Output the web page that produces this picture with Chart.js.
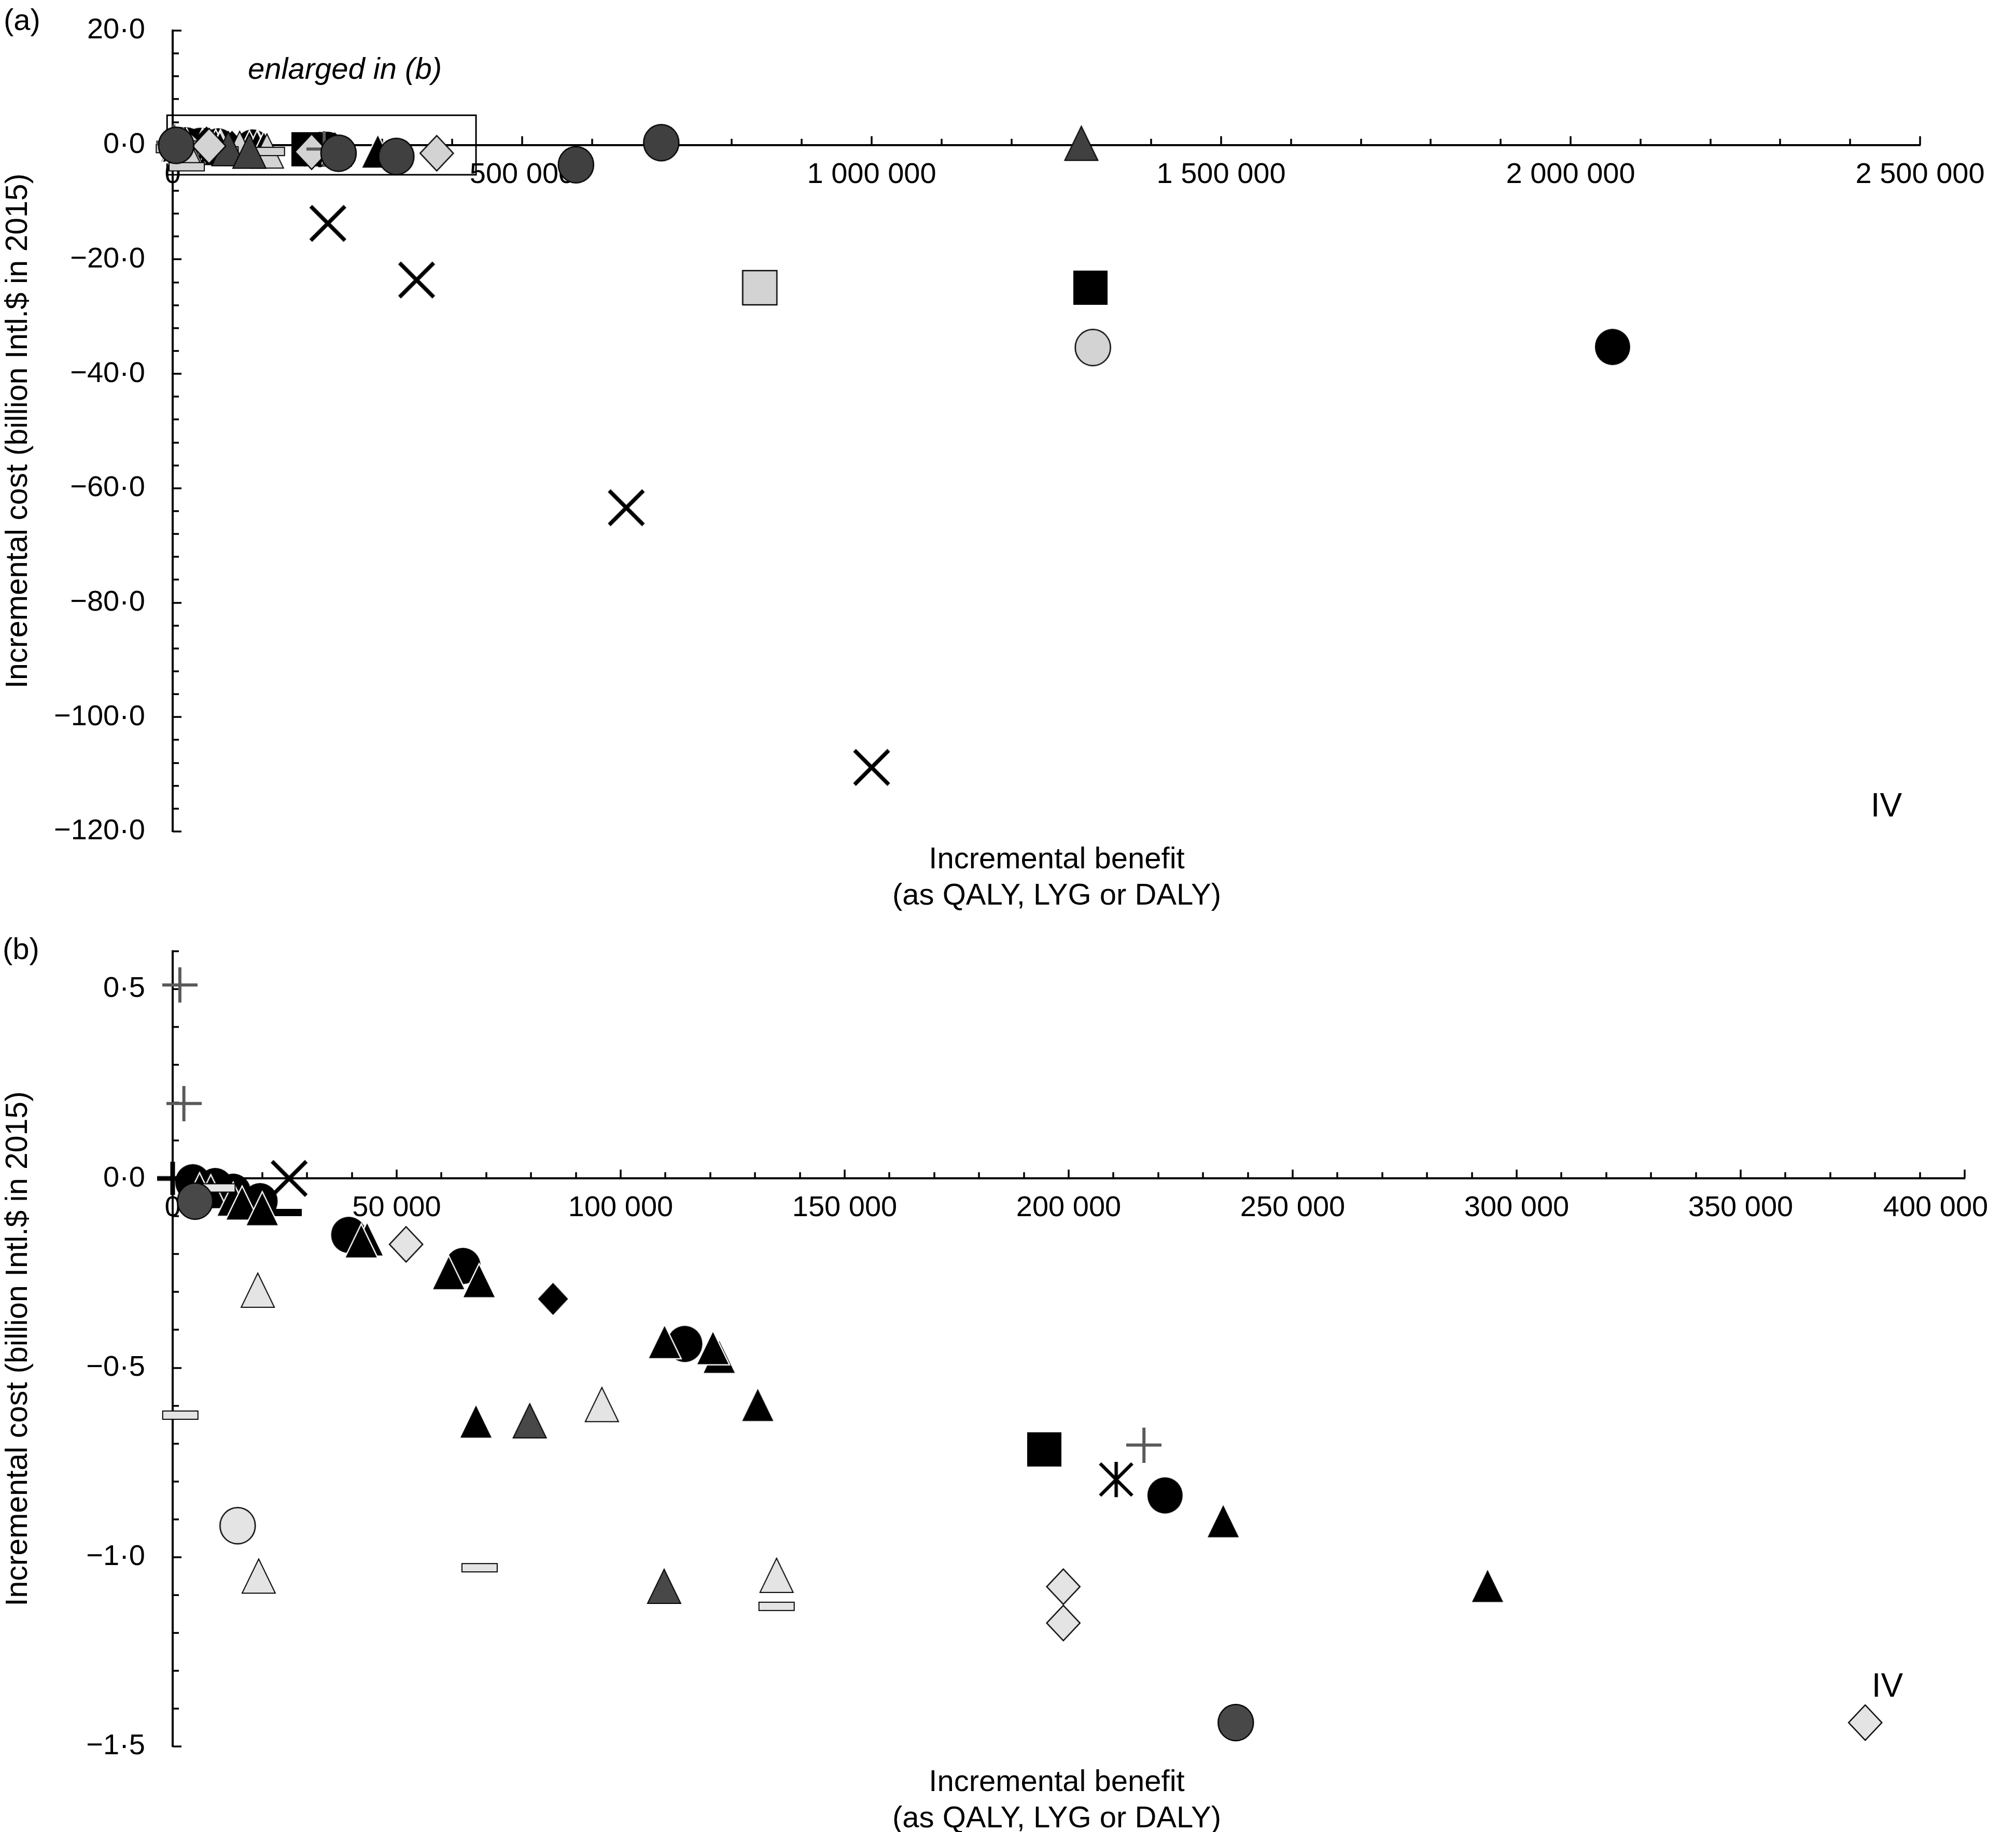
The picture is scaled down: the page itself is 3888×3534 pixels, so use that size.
<!DOCTYPE html>
<html><head><meta charset="utf-8">
<script src="https://cdn.jsdelivr.net/npm/chart.js@4.4.1/dist/chart.umd.min.js"></script>
<style>
html,body{margin:0;padding:0;background:#fff;}
body{width:3888px;height:3534px;position:relative;overflow:hidden;}
canvas{position:absolute;left:0;top:0;}
</style></head>
<body>
<canvas id="ca" width="3888" height="3534"></canvas>
<canvas id="cb" width="3888" height="3534"></canvas>
<script>
// ---------------- data (x = incremental benefit, y = incremental cost, billion Intl.$) ----------------
const blackCircles   = [[4500,-0.01],[9500,-0.02],[13500,-0.035],[19500,-0.06],[39300,-0.149],[64800,-0.231],[114300,-0.437],[221500,-0.837],[2060000,-35.3]];
const blackTriangles = [[6000,-0.03],[8500,-0.035],[13500,-0.055],[15500,-0.065],[20000,-0.08],[43400,-0.16],[42100,-0.165],[61600,-0.249],[68400,-0.27],[67700,-0.641],[109800,-0.431],[122000,-0.47],[120600,-0.447],[130600,-0.597],[234500,-0.904],[293500,-1.075]];
const darkTriangles  = [[79700,-0.64],[109700,-1.077],[1300000,0.3]];
const darkCircles    = [[5000,-0.06],[237300,-1.437],[320000,-2.0],[577000,-3.45],[699000,0.4]];
const lightTriangles = [[19000,-0.295],[19200,-1.05],[95800,-0.597],[134800,-1.048]];
const lightCircles   = [[14500,-0.917],[1316500,-35.4]];
const lightDiamonds  = [[52100,-0.174],[198800,-1.078],[198800,-1.174],[377800,-1.437]];
const blackDiamonds  = [[84900,-0.318]];
const lightSquares   = [[840000,-24.95]];
const blackSquares   = [[194600,-0.716],[1313000,-24.95]];
const crosses        = [[26000,0.0],[222000,-13.7],[349000,-23.6],[649000,-63.4],[1000000,-108.8]];
const grayPluses     = [[1600,0.511],[2500,0.198],[216800,-0.704]];
const blackPluses    = [[0,0]];
const asterisks      = [[210600,-0.795]];
const lightDashes    = [[10000,-0.025],[1700,-0.625],[68500,-1.028],[134800,-1.13],[20000,-3.8]];
const blackDashes    = [[24900,-0.09]];

// tick labels
const xLabelsA = [0, 500000, 1000000, 1500000, 2000000, 2500000];
const yLabelsA = [20, 0, -20, -40, -60, -80, -100, -120];
const xLabelsB = [0, 50000, 100000, 150000, 200000, 250000, 300000, 350000, 400000];
const yLabelsB = [0.5, 0, -0.5, -1.0, -1.5];

// extent of the region enlarged in (b), drawn in (a)
const enlargedBox = {x0: -8000, x1: 434000, y0: 5.2, y1: -5.2};

// ---------------- rendering ----------------
const FONT = "'Liberation Sans', Arial, Helvetica, sans-serif";
Chart.defaults.font.family = FONT;
Chart.defaults.color = '#000';

function mk(w, h, draw) {
  const c = document.createElement('canvas');
  c.width = w; c.height = h;
  const g = c.getContext('2d');
  draw(g, w, h);
  return c;
}
function poly(g, pts) { g.beginPath(); g.moveTo(pts[0][0], pts[0][1]); for (let i = 1; i < pts.length; i++) g.lineTo(pts[i][0], pts[i][1]); g.closePath(); }

function makeMarkers(light, dark) {
  const M = {};
  M.blackCircle = mk(70, 72, g => { g.beginPath(); g.ellipse(35, 36, 34, 35, 0, 0, 2 * Math.PI); g.fillStyle = '#000'; g.fill(); });
  M.darkCircle = mk(74, 76, g => { g.beginPath(); g.ellipse(37, 38, 34, 35, 0, 0, 2 * Math.PI); g.fillStyle = dark; g.fill(); g.lineWidth = 2.5; g.strokeStyle = '#000'; g.stroke(); });
  M.lightCircle = mk(74, 76, g => { g.beginPath(); g.ellipse(37, 38, 34, 35, 0, 0, 2 * Math.PI); g.fillStyle = light; g.fill(); g.lineWidth = 2.5; g.strokeStyle = '#000'; g.stroke(); });
  M.blackTri = mk(70, 72, g => { poly(g, [[35, 3], [67, 69], [3, 69]]); g.fillStyle = '#000'; g.fill(); g.lineWidth = 2.5; g.strokeStyle = '#fff'; g.stroke(); });
  M.darkTri = mk(70, 72, g => { poly(g, [[35, 3], [67, 69], [3, 69]]); g.fillStyle = dark; g.fill(); g.lineWidth = 2; g.strokeStyle = '#000'; g.stroke(); });
  M.lightTri = mk(70, 72, g => { poly(g, [[35, 3], [67, 69], [3, 69]]); g.fillStyle = light; g.fill(); g.lineWidth = 2; g.strokeStyle = '#000'; g.stroke(); });
  M.lightDiamond = mk(70, 74, g => { poly(g, [[35, 3], [67, 37], [35, 71], [3, 37]]); g.fillStyle = light; g.fill(); g.lineWidth = 2.5; g.strokeStyle = '#000'; g.stroke(); });
  M.blackDiamond = mk(60, 64, g => { poly(g, [[30, 1], [59, 32], [30, 63], [1, 32]]); g.fillStyle = '#000'; g.fill(); });
  M.blackSquare = mk(66, 66, g => { g.fillStyle = '#000'; g.fillRect(0, 0, 66, 66); });
  M.lightSquare = mk(70, 70, g => { g.fillStyle = light; g.fillRect(2, 2, 66, 66); g.lineWidth = 2.5; g.strokeStyle = '#000'; g.strokeRect(2, 2, 66, 66); });
  M.cross = mk(74, 74, g => { g.strokeStyle = '#000'; g.lineWidth = 7.5; g.beginPath(); g.moveTo(4, 4); g.lineTo(70, 70); g.moveTo(70, 4); g.lineTo(4, 70); g.stroke(); });
  M.grayPlus = mk(68, 68, g => { g.strokeStyle = '#5a5a5a'; g.lineWidth = 6; g.beginPath(); g.moveTo(34, 0); g.lineTo(34, 68); g.moveTo(0, 34); g.lineTo(68, 34); g.stroke(); });
  M.blackPlus = mk(60, 64, g => { g.strokeStyle = '#000'; g.lineWidth = 9; g.beginPath(); g.moveTo(30, 0); g.lineTo(30, 64); g.moveTo(0, 32); g.lineTo(60, 32); g.stroke(); });
  M.asterisk = mk(72, 74, g => { g.strokeStyle = '#000'; g.lineWidth = 6.5; g.beginPath(); g.moveTo(5, 6); g.lineTo(67, 68); g.moveTo(67, 6); g.lineTo(5, 68); g.moveTo(36, 3); g.lineTo(36, 71); g.stroke(); });
  M.lightDash = mk(72, 20, g => { g.fillStyle = light; g.fillRect(2, 2, 68, 16); g.lineWidth = 2; g.strokeStyle = '#000'; g.strokeRect(2, 2, 68, 16); });
  M.blackDash = mk(68, 14, g => { g.fillStyle = '#000'; g.fillRect(0, 0, 68, 14); });
  return M;
}

// draw order: first entry is drawn on top
const seriesList = [
  ['darkCircles', darkCircles, 'darkCircle'],
  ['grayPluses', grayPluses, 'grayPlus'],
  ['lightDiamonds', lightDiamonds, 'lightDiamond'],
  ['darkTriangles', darkTriangles, 'darkTri'],
  ['lightDashes', lightDashes, 'lightDash'],
  ['lightTriangles', lightTriangles, 'lightTri'],
  ['lightCircles', lightCircles, 'lightCircle'],
  ['lightSquares', lightSquares, 'lightSquare'],
  ['crosses', crosses, 'cross'],
  ['asterisks', asterisks, 'asterisk'],
  ['blackPluses', blackPluses, 'blackPlus'],
  ['blackTriangles', blackTriangles, 'blackTri'],
  ['blackDashes', blackDashes, 'blackDash'],
  ['blackDiamonds', blackDiamonds, 'blackDiamond'],
  ['blackSquares', blackSquares, 'blackSquare'],
  ['blackCircles', blackCircles, 'blackCircle']
];

function datasets(markers, filter) {
  return seriesList.map(([name, arr, m]) => ({
    label: name,
    data: arr.filter(p => filter(p[0], p[1])).map(p => ({x: p[0], y: p[1]})),
    pointStyle: markers[m],
    pointRadius: 35,
    pointHoverRadius: 35,
    clip: false
  }));
}

function fmtX(v) { return v === 0 ? '0' : String(Math.round(v)).replace(/\B(?=(\d{3})+(?!\d))/g, ' '); }
function fmtY(v) { const r = Math.round(v * 10) / 10; return (r < 0 ? '\u2212' : '') + Math.abs(r).toFixed(1).replace('.', '\u00b7'); }
function pick(list, v, eps) { return list.some(l => Math.abs(l - v) < eps); }

function zeroPad(s) { s.paddingLeft = 0; s.paddingRight = 0; s.paddingTop = 0; s.paddingBottom = 0; }

function decor(opts) {
  return {
    id: 'decor',
    beforeDatasetsDraw(chart) {
      const {ctx, chartArea: ca, scales: {x, y}} = chart;
      const y0 = y.getPixelForValue(0);
      ctx.save();
      ctx.strokeStyle = '#000';
      ctx.lineWidth = 3.5;
      ctx.beginPath();
      x.ticks.forEach(t => { const px = Math.round(x.getPixelForValue(t.value)); const L = t.label ? 17 : 12; ctx.moveTo(px, y0); ctx.lineTo(px, y0 - L); });
      y.ticks.forEach(t => { const py = Math.round(y.getPixelForValue(t.value)); const L = t.label ? 17 : 12; ctx.moveTo(ca.left, py); ctx.lineTo(ca.left + L, py); });
      ctx.stroke();
      if (opts.box) {
        const b = opts.box;
        const bx0 = x.getPixelForValue(b.x0), bx1 = x.getPixelForValue(b.x1);
        const by0 = y.getPixelForValue(b.y0), by1 = y.getPixelForValue(b.y1);
        ctx.lineWidth = 3;
        ctx.strokeRect(bx0, by0, bx1 - bx0, by1 - by0);
      }
      ctx.restore();
    },
    afterDraw(chart) {
      const ctx = chart.ctx;
      ctx.save();
      ctx.fillStyle = '#000';
      ctx.textBaseline = 'alphabetic';
      opts.texts.forEach(t => {
        ctx.font = (t.style || '') + ' ' + t.size + 'px ' + FONT;
        ctx.textAlign = t.align || 'left';
        ctx.fillText(t.text, t.x, t.y);
      });
      ctx.restore();
    }
  };
}

function build(canvasId, cfg) {
  return new Chart(document.getElementById(canvasId), {
    type: 'scatter',
    data: {datasets: cfg.datasets},
    options: {
      responsive: false, animation: false, events: [], devicePixelRatio: 1,
      layout: {padding: cfg.padding},
      plugins: {legend: {display: false}, tooltip: {enabled: false}, title: {display: false}},
      scales: {
        x: {
          type: 'linear', position: {y: 0}, min: cfg.xMin, max: cfg.xMax,
          grid: {display: false, drawTicks: false},
          border: {display: true, color: '#000', width: 4},
          ticks: {
            stepSize: cfg.xStep, autoSkip: false, maxRotation: 0, minRotation: 0, padding: 24,
            color: '#000', font: {size: 56, lineHeight: 1.2},
            callback: v => pick(cfg.xLabels, v, cfg.xStep / 100) ? fmtX(v) + (v === cfg.xShiftLast ? '\u2003\u2003' : '') : ''
          },
          afterFit: s => { s.height = 0; zeroPad(s); }
        },
        y: {
          type: 'linear', position: 'left', min: cfg.yMin, max: cfg.yMax,
          grid: {display: false, drawTicks: false},
          border: {display: true, color: '#000', width: 4},
          ticks: {
            stepSize: cfg.yStep, autoSkip: false, padding: 53,
            color: '#000', font: {size: 56, lineHeight: 1.2},
            callback: v => pick(cfg.yLabels, v, cfg.yStep / 100) ? fmtY(v) : ''
          },
          title: {display: true, text: 'Incremental cost (billion Intl.$ in 2015)', color: '#000', font: {size: 59, lineHeight: 1.22}, padding: 0},
          afterFit: s => { s.width = 333; zeroPad(s); }
        }
      }
    },
    plugins: [decor(cfg.decor)]
  });
}

const markersA = makeMarkers('#d3d3d3', '#404040');
const markersB = makeMarkers('#e4e4e4', '#484848');

build('ca', {
  datasets: datasets(markersA, () => true),
  padding: {left: 0, top: 59, right: 185, bottom: 1930},
  xMin: 0, xMax: 2500000, xStep: 100000, xLabels: xLabelsA, xShiftLast: null,
  yMin: -120, yMax: 20, yStep: 4, yLabels: yLabelsA,
  decor: {
    box: enlargedBox,
    texts: [
      {text: '(a)', x: 7, y: 58, size: 58},
      {text: 'enlarged in (b)', x: 665, y: 152, size: 58, style: 'italic', align: 'center'},
      {text: 'IV', x: 3638, y: 1575, size: 64, align: 'center'},
      {text: 'Incremental benefit', x: 2038, y: 1675, size: 58, align: 'center'},
      {text: '(as QALY, LYG or DALY)', x: 2038, y: 1745, size: 58, align: 'center'}
    ]
  }
});

build('cb', {
  datasets: datasets(markersB, (x, y) => x >= 0 && x <= 400000 && y >= -1.5 && y <= 0.6),
  padding: {left: 0, top: 1835, right: 99, bottom: 165},
  xMin: 0, xMax: 400000, xStep: 10000, xLabels: xLabelsB, xShiftLast: 400000,
  yMin: -1.5, yMax: 0.6, yStep: 0.1, yLabels: yLabelsB,
  decor: {
    texts: [
      {text: '(b)', x: 5, y: 1850, size: 58},
      {text: 'IV', x: 3640, y: 3273, size: 64, align: 'center'},
      {text: 'Incremental benefit', x: 2038, y: 3455, size: 58, align: 'center'},
      {text: '(as QALY, LYG or DALY)', x: 2038, y: 3525, size: 58, align: 'center'}
    ]
  }
});
</script>
</body></html>
